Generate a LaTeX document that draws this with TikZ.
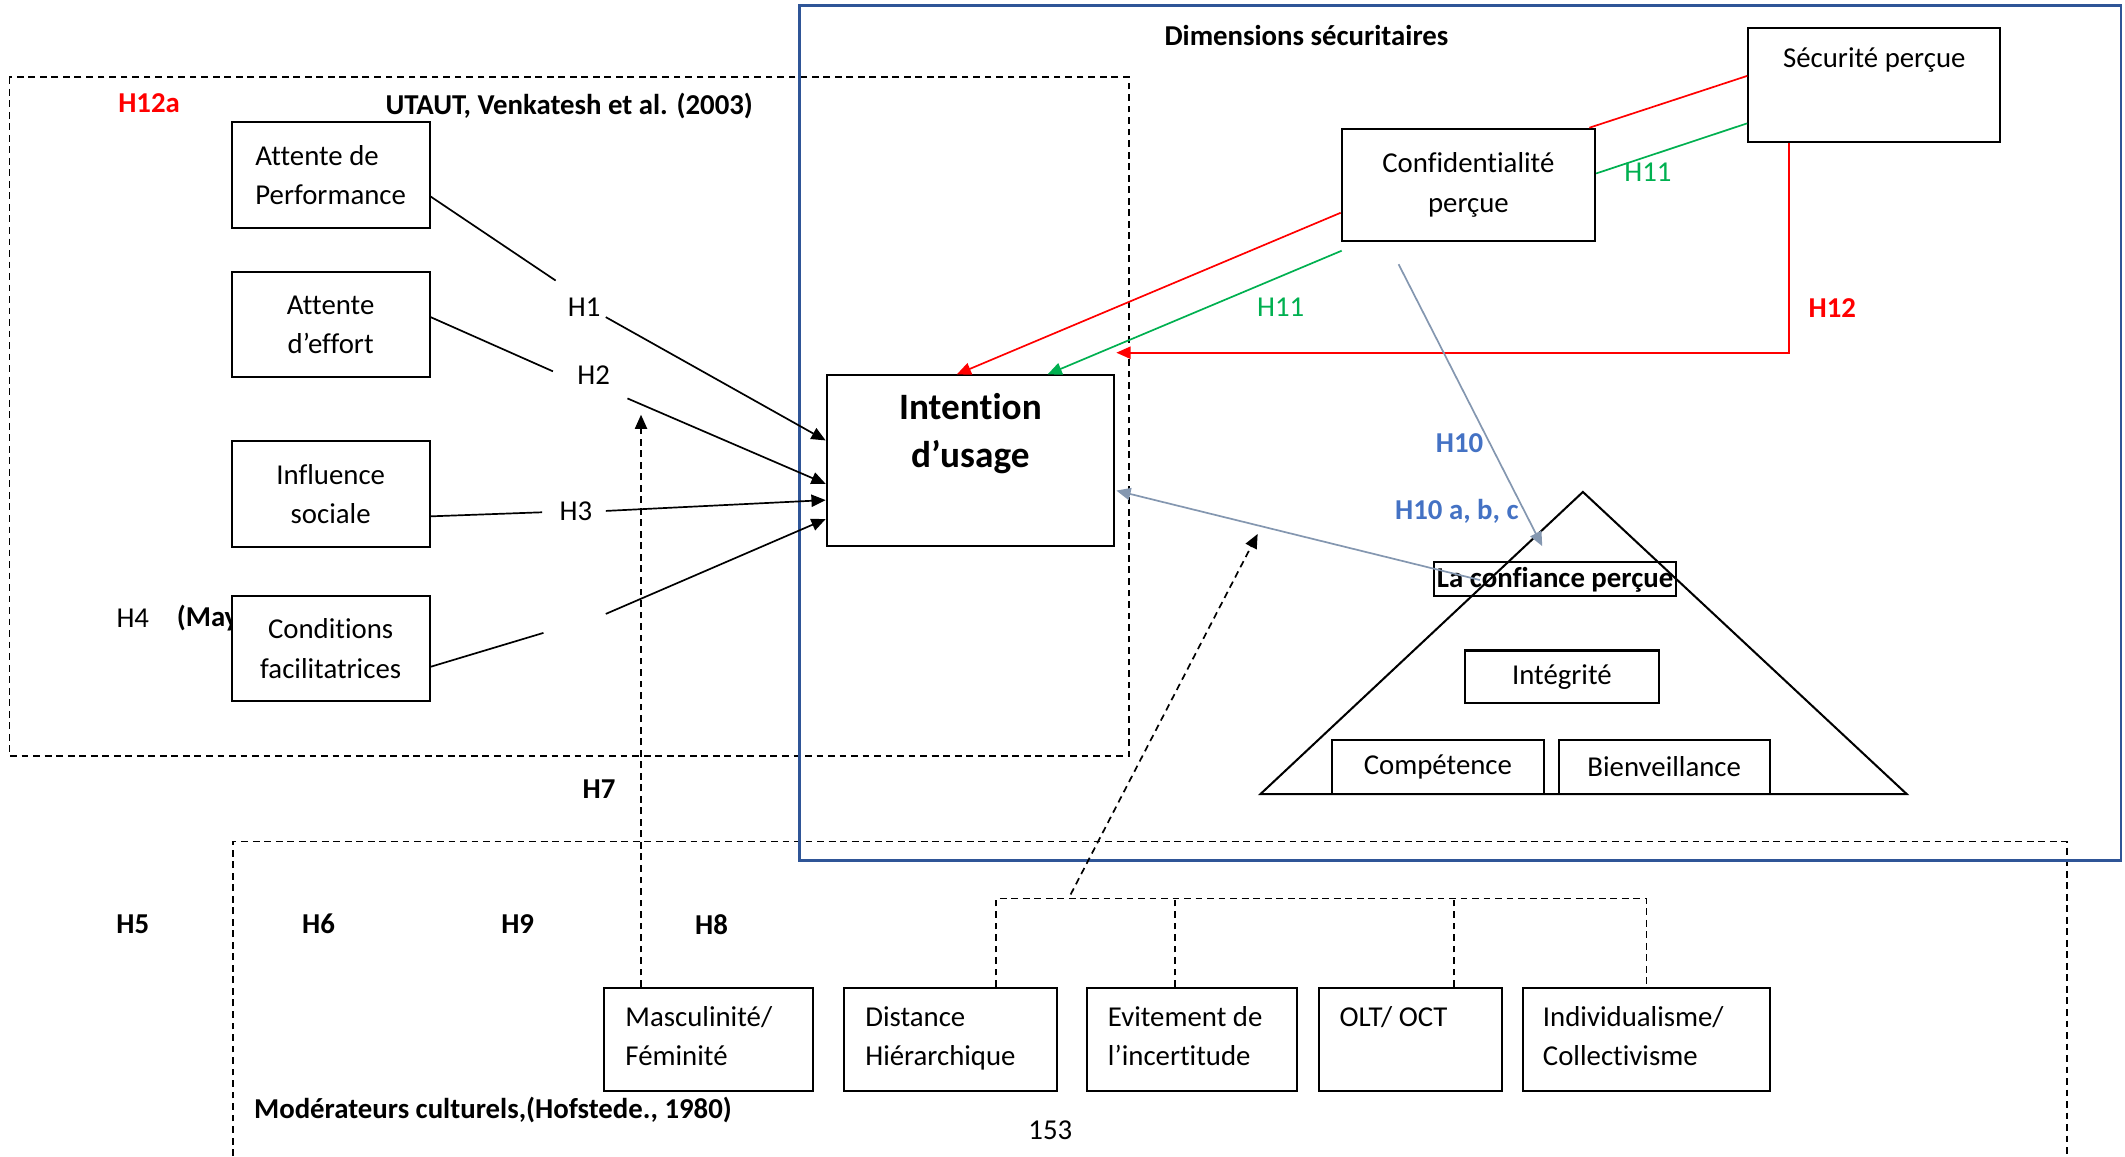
\documentclass[tikz,border=0pt]{standalone}
\usepackage{fontspec}
\setmainfont{Carlito}[Ligatures=NoCommon]
\usetikzlibrary{arrows.meta,calc}
\definecolor{hred}{HTML}{FF0000}
\definecolor{hgreen}{HTML}{00B050}
\definecolor{hblue}{HTML}{4472C4}
\definecolor{hgrey}{HTML}{8497B0}
\definecolor{secblue}{HTML}{2F5597}
\begin{document}
\begin{tikzpicture}[x=0.4pt,y=-0.4pt,
  every node/.style={inner sep=0pt, font=\fontsize{8.5}{11.6}\selectfont},
  bx/.style={draw, line width=0.6pt, fill=white, align=center},
  lbl/.style={font=\fontsize{8.5}{11.6}\selectfont},
  blbl/.style={font=\fontsize{8.5}{11.6}\selectfont\bfseries},
  ln/.style={line width=0.5pt},
  arr/.style={line width=0.5pt, -{Triangle[length=4.2pt,width=3.6pt]}},
  dsh/.style={line width=0.5pt, dash pattern=on 2pt off 1.4pt},
  ctext/.style={anchor=north west, align=left}]
\useasboundingbox (0,0) rectangle (1568,853);
\fill[white] (0,0) rectangle (1568,853);

% frames
\draw[dsh] (7,57) rectangle (833,558);
\draw[dsh] (172,853) -- (172,621) -- (1525,621) -- (1525,853);
\draw[secblue, line width=0.8pt] (590,4) rectangle (1565,635);

% titles and labels
\node[blbl] (tsec) at (964,26) {Dimensions sécuritaires};
\node[blbl, text=hred] (h12a) at (110,76) {H12a};
\node[blbl] (tutaut) at (420,78) {UTAUT, Venkatesh et al. (2003)};
\node[blbl, anchor=west] (tcult) at (187,819) {Modérateurs culturels,(Hofstede., 1980)};
\node[lbl] (pg) at (775,834) {153};
\node[lbl] (lh1) at (431,227) {H1};
\node[lbl] (lh2) at (438,277) {H2};
\node[lbl] (lh3) at (425,377) {H3};
\node[lbl] (lh4) at (98,456) {H4};
\node[blbl, anchor=west] (may) at (130,456) {(May};
\node[blbl] (lh7) at (442,582) {H7};
\node[blbl] (lh5) at (98,682) {H5};
\node[blbl] (lh6) at (235,682) {H6};
\node[blbl] (lh9) at (382,682) {H9};
\node[blbl] (lh8) at (525,682) {H8};
\node[lbl, text=hgreen] (lh11a) at (945,227) {H11};
\node[lbl, text=hgreen] (lh11b) at (1216,127) {H11};
\node[blbl, text=hred] (lh12) at (1352,227) {H12};
\node[blbl, text=hblue] (lh10) at (1077,327) {H10};
\node[blbl, text=hblue] (lh10abc) at (1075,377) {H10 a, b, c};

% UTAUT boxes
\node[bx, align=left, minimum width=58.4pt, minimum height=31.2pt] (ap) at (244,129) {Attente de\\Performance};
\node[bx, minimum width=58.4pt, minimum height=31.2pt] (ae) at (244,239.5) {Attente\\d’effort};
\node[bx, minimum width=58.4pt, minimum height=31.2pt] (is) at (244,364.5) {Influence\\sociale};
\node[bx, minimum width=58.4pt, minimum height=31.2pt] (cf) at (244,478.5) {Conditions\\facilitatrices};

% Intention
\node[bx, minimum width=84.8pt, minimum height=50.4pt] (iu) at (716,340) {};
\node[align=center, font=\fontsize{11}{14.4}\selectfont\bfseries] (iut) at (716,320) {Intention\\d’usage};

% security boxes
\node[bx, minimum width=74.8pt, minimum height=33.2pt] (conf) at (1083.5,136.5) {Confidentialité\\perçue};
\node[bx, minimum width=74.4pt, minimum height=33.6pt] (sec) at (1383,63) {};
\node (sect) at (1383,44) {Sécurité perçue};

% cultural boxes
\node[bx, minimum width=61.6pt, minimum height=30.4pt] (masc) at (523,767) {};
\node[bx, minimum width=62.8pt, minimum height=30.4pt] (dist) at (701.5,767) {};
\node[bx, minimum width=62pt, minimum height=30.4pt] (evit) at (879.5,767) {};
\node[bx, minimum width=54pt, minimum height=30.4pt] (olt) at (1040.5,767) {};
\node[bx, minimum width=72.8pt, minimum height=30.4pt] (indiv) at (1215,767) {};
\node[ctext] (masct) at (461,742) {Masculinité/\\Féminité};
\node[ctext] (distt) at (638,742) {Distance\\Hiérarchique};
\node[ctext] (evitt) at (817,742) {Evitement de\\l’incertitude};
\node[ctext] (oltt) at (988,742) {OLT/ OCT};
\node[ctext] (indivt) at (1138,742) {Individualisme/\\Collectivisme};

% trust pyramid
\node[draw, line width=0.6pt, minimum width=71.6pt, minimum height=10pt, font=\fontsize{8.5}{11.6}\selectfont\bfseries] (lcp) at (1147.5,427.5) {La confiance perçue};
\node[bx, minimum width=57.2pt, minimum height=15.6pt] (integ) at (1152.5,499.5) {Intégrité};
\node[bx, minimum width=62.4pt, minimum height=16pt] (comp) at (1061,566) {Compétence};
\node[bx, minimum width=62.4pt, minimum height=16pt] (bien) at (1228,566) {Bienveillance};
\coordinate (tA) at (1168,363);
\coordinate (tB) at (930,586);
\coordinate (tC) at (1407,586);
\draw[line width=0.6pt] (tA) -- (tB) -- (tC) -- cycle;

% UTAUT connectors
\coordinate (h1a) at (410,207); \coordinate (h1b) at (447,234);
\coordinate (h2a) at (408,274); \coordinate (h2b) at (463,294);
\coordinate (h3a) at (400,378); \coordinate (h3b) at (447,377);
\coordinate (h4a) at (401,467); \coordinate (h4b) at (447,453);
\draw[ln] ($(ap.east)+(0,16)$) -- (h1a);
\draw[arr] (h1b) -- ($(iu.west)+(0,-15)$);
\draw[ln] ($(ae.east)+(0,-5.5)$) -- (h2a);
\draw[arr] (h2b) -- ($(iu.west)+(0,17)$);
\draw[ln] ($(is.east)+(0,16.5)$) -- (h3a);
\draw[arr] (h3b) -- ($(iu.west)+(0,29)$);
\draw[ln] ($(cf.east)+(0,13.5)$) -- (h4a);
\draw[arr] (h4b) -- ($(iu.west)+(0,43)$);

% security connectors
\draw[ln, hred] ($(sec.west)+(0,-7)$) -- ($(conf.north east)+(-5,0)$);
\draw[arr, hred] ($(conf.west)+(0,20.5)$) -- ($(iu.north)+(-10,0)$);
\draw[ln, hgreen] ($(sec.west)+(0,28)$) -- ($(conf.east)+(0,-8.5)$);
\coordinate (g1) at (990,185);
\draw[arr, hgreen] (g1) -- ($(iu.north)+(57,0)$);
\draw[arr, hred] ($(sec.south west)+(31,0)$) |- ($(iu.north east)+(1,-16)$);

% trust connectors
\coordinate (t1) at (1032,195);
\coordinate (t2) at (1138,403);
\draw[arr, hgrey] (t1) -- (t2);
\coordinate (t3) at (1092,428);
\draw[arr, hgrey] (t3) -- ($(iu.east)+(1,22)$);

% cultural connectors
\draw[dsh, -{Triangle[length=4.2pt,width=3.6pt]}] ($(masc.north)+(-50,0)$) -- (473,306) coordinate (h7tip);
\coordinate (brk) at (790,660);
\coordinate (brktip) at (928,394);
\draw[dsh, -{Triangle[length=4.2pt,width=3.6pt]}] (brk) -- (brktip);
\draw[dsh] ($(dist.north)+(33.5,0)$) |- (indiv.north |- 0,663) -- (indiv.north);
\draw[dsh] ($(evit.north)+(-12.5,0)$) -- ++(0,-66);
\draw[dsh] ($(olt.north)+(32.5,0)$) -- ++(0,-66);
\end{tikzpicture}
\end{document}
